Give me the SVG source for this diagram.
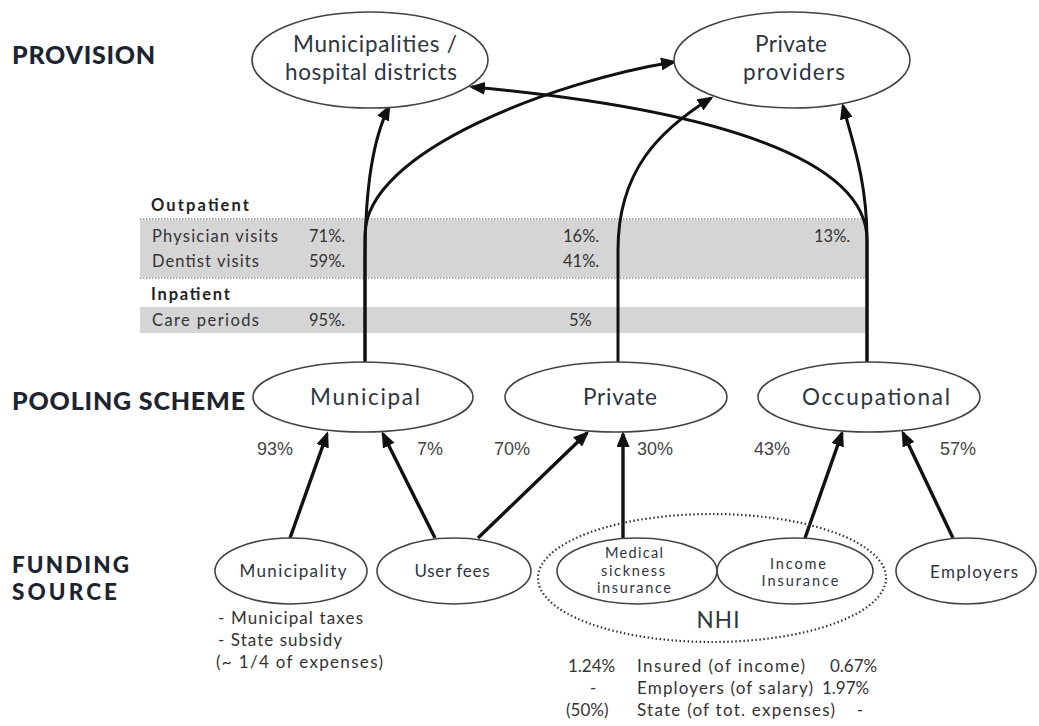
<svg xmlns="http://www.w3.org/2000/svg" width="1039" height="726" viewBox="0 0 1039 726">
<defs>
<marker id="ah" markerUnits="userSpaceOnUse" markerWidth="18" markerHeight="13" refX="13" refY="6.5" orient="auto">
<path d="M0,0 L16,6.5 L0,13 z" fill="#111"/>
</marker>
<style>
.bg{fill:#fff}
.node{fill:#fff;stroke:#444;stroke-width:1.6}
.nhi{fill:none;stroke:#333;stroke-width:2.2;stroke-dasharray:1.5 2.5}
.t{font-family:Lato,"Open Sans",sans-serif;fill:#2e3440;text-anchor:middle}
.big{font-size:22.5px}
.mid{font-size:17px}
.sm{font-size:14.5px}
.head{font-family:Lato,"Open Sans",sans-serif;font-weight:900;font-size:25px;fill:#1d2430}
.head2{font-family:Lato,"Open Sans",sans-serif;font-weight:900;font-size:22.5px;fill:#1d2430}
.tab{font-family:Lato,"Open Sans",sans-serif;font-size:16.5px;fill:#333}
.tabb{font-family:Lato,"Open Sans",sans-serif;font-size:16.5px;font-weight:bold;fill:#222}
.pct{font-family:"Liberation Sans",Arial,sans-serif;font-size:18px;fill:#444;text-anchor:middle}
.note{font-family:Lato,"Open Sans",sans-serif;font-size:17px;fill:#333}
.band{fill:#d5d5d5}
.dots{stroke:#888;stroke-width:1.5;stroke-dasharray:1.5 1.5}
.c{fill:none;stroke:#111;stroke-width:3}
.c2{fill:none;stroke:#111;stroke-width:3.4}
</style>
</defs>
<rect class="bg" x="0" y="0" width="1039" height="726"/>

<g id="labels">
<text class="head" x="12" y="64" textLength="143">PROVISION</text>
<text class="head" x="12" y="410" textLength="233">POOLING SCHEME</text>
<text class="head2" x="12" y="573" textLength="117">FUNDING</text>
<text class="head2" x="12" y="600" textLength="105">SOURCE</text>
</g>

<g id="table">
<text class="tabb" x="151" y="211" textLength="98">Outpatient</text>
<line class="dots" x1="140" y1="219" x2="868" y2="219"/>
<rect class="band" x="140" y="220" width="728" height="57"/>
<line class="dots" x1="140" y1="278" x2="868" y2="278"/>
<text class="tab" x="152" y="242" textLength="126">Physician visits</text>
<text class="tab" x="309" y="242">71%.</text>
<text class="tab" x="563" y="242">16%.</text>
<text class="tab" x="814" y="242">13%.</text>
<text class="tab" x="152" y="267" textLength="107">Dentist visits</text>
<text class="tab" x="309" y="267">59%.</text>
<text class="tab" x="563" y="267">41%.</text>
<text class="tabb" x="151" y="300" textLength="79">Inpatient</text>
<rect class="band" x="140" y="307" width="728" height="26"/>
<text class="tab" x="152" y="326" textLength="107">Care periods</text>
<text class="tab" x="309" y="326">95%.</text>
<text class="tab" x="569" y="326">5%</text>
</g>

<g id="connectors">
<path class="c" d="M365,362 L365,260 C365,190 372,140 389,107" marker-end="url(#ah)"/>
<path class="c" d="M365,362 L365,235 C365,150 560,80 674,62" marker-end="url(#ah)"/>
<path class="c" d="M618,362 L618,250 C618,170 660,130 711,98" marker-end="url(#ah)"/>
<path class="c" d="M867,362 L867,240 C867,160 720,110 472,87" marker-end="url(#ah)"/>
<path class="c" d="M867,362 L867,240 C867,180 852,140 843,106" marker-end="url(#ah)"/>
<line class="c2" x1="290" y1="538" x2="327" y2="434" marker-end="url(#ah)"/>
<line class="c2" x1="435" y1="538" x2="383" y2="434" marker-end="url(#ah)"/>
<line class="c2" x1="478" y1="538" x2="587" y2="433" marker-end="url(#ah)"/>
<line class="c2" x1="623" y1="538" x2="623" y2="434" marker-end="url(#ah)"/>
<line class="c2" x1="805" y1="538" x2="842" y2="433" marker-end="url(#ah)"/>
<line class="c2" x1="953" y1="538" x2="903" y2="433" marker-end="url(#ah)"/>
</g>

<g id="pct">
<text class="pct" x="275" y="455">93%</text>
<text class="pct" x="430" y="455">7%</text>
<text class="pct" x="512" y="455">70%</text>
<text class="pct" x="655" y="455">30%</text>
<text class="pct" x="772" y="455">43%</text>
<text class="pct" x="958" y="455">57%</text>
</g>

<g id="n-munhosp">
<ellipse class="node" cx="370" cy="60" rx="118" ry="48"/>
<text class="t big" x="375" y="52" textLength="164">Municipalities /</text>
<text class="t big" x="371" y="79.5" textLength="172">hospital districts</text>
</g>
<g id="n-privprov">
<ellipse class="node" cx="792" cy="60" rx="118" ry="48"/>
<text class="t big" x="791" y="52" textLength="72">Private</text>
<text class="t big" x="794" y="79.5" textLength="102">providers</text>
</g>

<g id="n-municipal">
<ellipse class="node" cx="363" cy="397" rx="110" ry="35"/>
<text class="t big" x="365" y="405" textLength="110">Municipal</text>
</g>
<g id="n-private">
<ellipse class="node" cx="616" cy="397" rx="111" ry="35"/>
<text class="t big" x="620" y="405" textLength="74">Private</text>
</g>
<g id="n-occupational">
<ellipse class="node" cx="869" cy="397" rx="111" ry="35"/>
<text class="t big" x="876" y="405" textLength="148">Occupational</text>
</g>

<g id="n-nhi">
<ellipse class="nhi" cx="712" cy="578" rx="174" ry="64"/>
<text class="t big" x="718" y="628" textLength="43">NHI</text>
</g>
<g id="n-municipality">
<ellipse class="node" cx="291" cy="571" rx="76" ry="33"/>
<text class="t mid" x="293" y="577" textLength="107">Municipality</text>
</g>
<g id="n-userfees">
<ellipse class="node" cx="454" cy="571" rx="77" ry="33"/>
<text class="t mid" x="452" y="577" textLength="75">User fees</text>
</g>
<g id="n-medical">
<ellipse class="node" cx="637" cy="571" rx="80" ry="33"/>
<text class="t sm" x="634" y="558" textLength="58">Medical</text>
<text class="t sm" x="633" y="575.5" textLength="64">sickness</text>
<text class="t sm" x="634" y="593" textLength="74">insurance</text>
</g>
<g id="n-income">
<ellipse class="node" cx="795" cy="571" rx="78" ry="33"/>
<text class="t sm" x="798" y="568.5" textLength="56">Income</text>
<text class="t sm" x="800" y="586" textLength="77">Insurance</text>
</g>
<g id="n-employers">
<ellipse class="node" cx="966" cy="571" rx="70" ry="33"/>
<text class="t mid" x="974" y="578" textLength="88">Employers</text>
</g>

<g id="notes">
<text class="note" x="218" y="624" textLength="145">- Municipal taxes</text>
<text class="note" x="218" y="646" textLength="124">- State subsidy</text>
<text class="note" x="216" y="668" textLength="167">(~ 1/4 of expenses)</text>
<text class="note" x="568" y="672">1.24%</text>
<text class="note" x="637" y="672" textLength="168">Insured (of income)</text>
<text class="note" x="830" y="672">0.67%</text>
<text class="note" x="590" y="694">-</text>
<text class="note" x="637" y="694" textLength="176">Employers (of salary)</text>
<text class="note" x="822" y="694">1.97%</text>
<text class="note" x="566" y="716">(50%)</text>
<text class="note" x="637" y="716" textLength="198">State (of tot. expenses)</text>
<text class="note" x="857" y="716">-</text>
</g>
</svg>
